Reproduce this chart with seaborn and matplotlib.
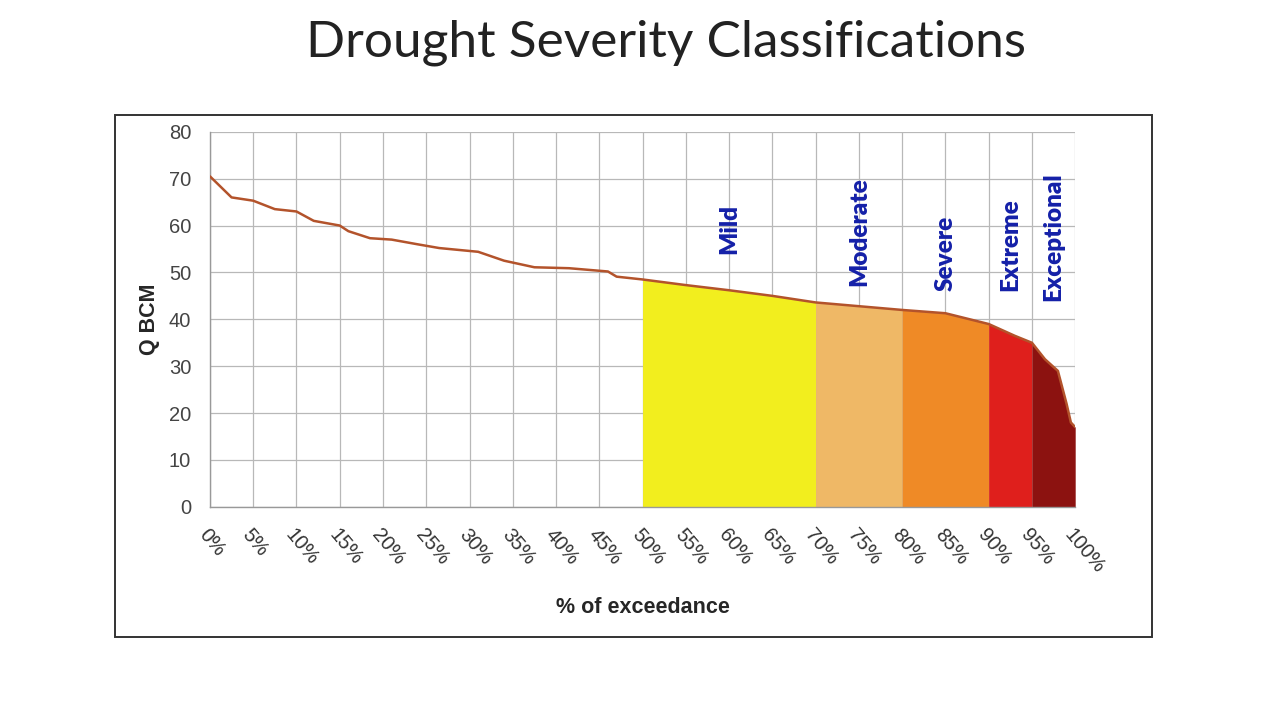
import numpy as np
import pandas as pd
import matplotlib.pyplot as plt
from matplotlib.patches import Rectangle
import seaborn as sns

# -------------------------------
# Data
# -------------------------------
exceedance = [0, 2.5, 5, 7.5, 10, 12, 15, 16, 18.5, 21, 24, 26.5, 31, 34, 37.5,
              41.5, 46, 47, 50, 55, 60, 65, 70, 75, 80, 85, 90, 93, 95, 96.5,
              98, 99, 99.5, 100]
q_bcm = [70.5, 66, 65.3, 63.5, 63, 61, 60, 58.8, 57.3, 57, 56, 55.2, 54.4, 52.5,
         51.1, 50.9, 50.2, 49.1, 48.5, 47.3, 46.2, 45, 43.6, 42.8, 42, 41.3,
         39, 36.5, 35, 31.5, 29, 22, 18, 17]

class_names = ['Mild', 'Moderate', 'Severe', 'Extreme', 'Exceptional']
class_start = [50, 70, 80, 90, 95]
class_end = [70, 80, 90, 95, 100]
class_label_x = [60, 75, 85, 92.5, 97.5]
class_label_y = [54, 47, 46, 46, 44]

x_ticks = list(range(0, 101, 5))
x_tick_labels = [f'{t}%' for t in x_ticks]
y_ticks = list(range(0, 81, 10))

df = pd.DataFrame({'exceedance': exceedance, 'q': q_bcm})

# styling
sns.set_style("whitegrid")
plt.rcParams['font.family'] = ['Liberation Sans', 'DejaVu Sans']
class_colors = ['#f2ee1e', '#efb866', '#ef8a26', '#df1f1c', '#8c1210']

fig = plt.figure(figsize=(12.8, 7.2), dpi=100)
fig.patch.set_facecolor('white')
ax = fig.add_axes([0.164, 0.296, 0.676, 0.521])

# severity bands under the curve
x_arr = df['exceedance'].to_numpy()
q_arr = df['q'].to_numpy()
for lo, hi, col in zip(class_start, class_end, class_colors):
    m = (x_arr >= lo) & (x_arr <= hi)
    ax.fill_between(x_arr[m], q_arr[m], 0, color=col, linewidth=0, zorder=2)

sns.lineplot(data=df, x='exceedance', y='q', color='#b3532b', linewidth=1.8,
             ax=ax, zorder=3)

for name, lx, ly in zip(class_names, class_label_x, class_label_y):
    ax.text(lx, ly, name, rotation=90, ha='center', va='bottom',
            color='#1420a8', fontsize=17.5, fontweight='heavy',
            family=['Lato', 'DejaVu Sans'], zorder=4)

ax.set_xlim(0, 100)
ax.set_ylim(0, 80)
ax.set_xticks(x_ticks)
ax.set_xticklabels(x_tick_labels, rotation=-50, ha='left', rotation_mode='anchor',
                   fontsize=14.5, color='#333333')
ax.set_yticks(y_ticks)
ax.tick_params(axis='y', labelsize=14.5, labelcolor='#444444', pad=10)
ax.tick_params(axis='x', pad=10)
ax.grid(True, color='#b8b8b8', linewidth=0.9)
ax.set_axisbelow(True)
for side in ['top', 'right']:
    ax.spines[side].set_visible(False)
for side in ['left', 'bottom']:
    ax.spines[side].set_color('#999999')
    ax.spines[side].set_linewidth(1.0)

ax.set_xlabel('% of exceedance', fontsize=15.5, fontweight='bold', labelpad=14)
ax.set_ylabel('Q BCM', fontsize=15.5, fontweight='bold', labelpad=6)

fig.text(0.52, 0.94, 'Drought Severity Classifications', ha='center', va='center',
         fontsize=37, color='#222222', family=['Lato', 'DejaVu Sans'])

# chart border
fig.patches.append(Rectangle((0.09, 0.115), 0.81, 0.725, transform=fig.transFigure,
                             fill=False, edgecolor='#333333', linewidth=1.4))

fig.savefig('out.png', dpi=100)
